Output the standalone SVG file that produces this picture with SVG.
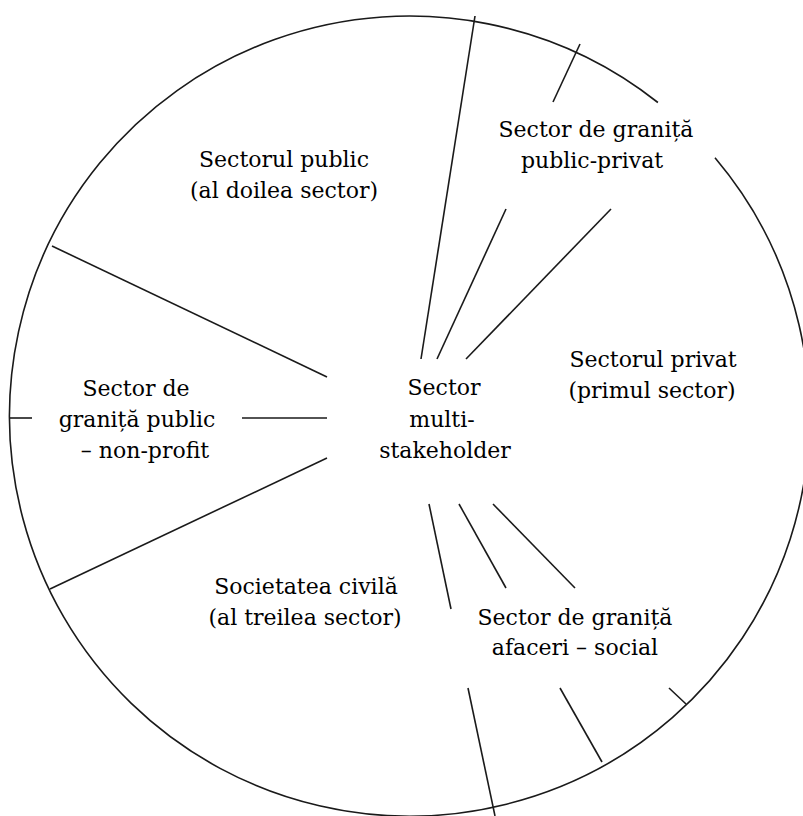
<svg xmlns="http://www.w3.org/2000/svg" width="803" height="816" viewBox="0 0 803 816">
<style>
.ln{stroke:#1a1a1a;stroke-width:1.6;fill:none;stroke-linecap:butt}
text{font-family:"DejaVu Serif","Liberation Serif",serif;font-size:22px;fill:#000;text-anchor:middle}
</style>
<rect width="803" height="816" fill="#fff"/>
<g id="outer-circle">
<path class="ln" d="M715,157.8 A400,400 0 1 1 657.9,102.5"/>
</g>
<g id="connectors">
<line class="ln" x1="475" y1="16" x2="421" y2="359"/>
<line class="ln" x1="580" y1="44" x2="553" y2="102"/>
<line class="ln" x1="506" y1="209" x2="437" y2="359"/>
<line class="ln" x1="611" y1="209" x2="466" y2="359"/>
<line class="ln" x1="52" y1="246" x2="327" y2="377"/>
<line class="ln" x1="9" y1="418" x2="32" y2="418"/>
<line class="ln" x1="242" y1="418" x2="327" y2="418"/>
<line class="ln" x1="50" y1="589" x2="327" y2="458"/>
<line class="ln" x1="429" y1="504" x2="451" y2="609"/>
<line class="ln" x1="468" y1="688" x2="495" y2="816"/>
<line class="ln" x1="459" y1="504" x2="506" y2="588"/>
<line class="ln" x1="560" y1="688" x2="602" y2="762"/>
<line class="ln" x1="493" y1="504" x2="575" y2="588"/>
<line class="ln" x1="669" y1="688" x2="686" y2="704"/>
</g>
<g id="sectorul-public">
<text x="284" y="167">Sectorul public</text>
<text x="284" y="198">(al doilea sector)</text>
</g>
<g id="granita-public-privat">
<text x="596" y="137">Sector de graniță</text>
<text x="592" y="168">public-privat</text>
</g>
<g id="granita-public-nonprofit">
<text x="136" y="396">Sector de</text>
<text x="137" y="427">graniță public</text>
<text x="145" y="458">– non-profit</text>
</g>
<g id="multi-stakeholder">
<text x="444" y="395">Sector</text>
<text x="442" y="427">multi-</text>
<text x="445" y="458">stakeholder</text>
</g>
<g id="sectorul-privat">
<text x="653" y="367">Sectorul privat</text>
<text x="652" y="398">(primul sector)</text>
</g>
<g id="societatea-civila">
<text x="306" y="594">Societatea civilă</text>
<text x="305" y="625">(al treilea sector)</text>
</g>
<g id="granita-afaceri-social">
<text x="575" y="625">Sector de graniță</text>
<text x="575" y="655">afaceri – social</text>
</g>
</svg>
